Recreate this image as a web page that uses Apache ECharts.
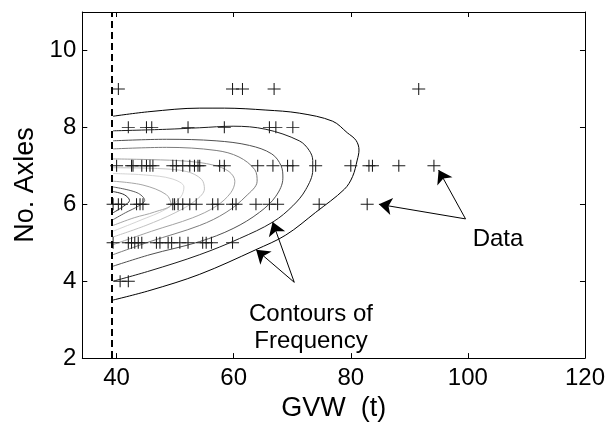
<!DOCTYPE html>
<html><head><meta charset="utf-8">
<script src="https://cdn.jsdelivr.net/npm/echarts@6/dist/echarts.min.js"></script>
<style>html,body{margin:0;padding:0;background:#fff}#c{width:608px;height:427px}</style>
</head><body><div id="c"></div>
<script>
// ---- axis ticks ----
const xTicks = [40, 60, 80, 100, 120];
const yTicks = [2, 4, 6, 8, 10];
const truncationGVW = 39.25;

// ---- data points: GVW values (t) for each number of axles ----
const axleCounts = [9, 8, 7, 6, 5, 4];
const gvwAt9 = [40.3, 59.8, 61.5, 66.9, 91.6];
const gvwAt8 = [42.0, 45.1, 46.0, 52.2, 58.4, 66.1, 67.2, 70.1];
const gvwAt7 = [40.0, 42.55, 42.8, 44.3, 45.1, 45.7, 46.2, 49.6, 50.2, 51.3, 52.5, 53.3, 53.9, 54.2, 57.6, 58.4, 64.1, 66.7, 69.2, 70.1, 74.0, 80.0, 83.1, 83.7, 88.2, 94.2];
const gvwAt6 = [39.4, 40.3, 40.85, 43.4, 44.0, 44.5, 49.6, 49.9, 50.5, 51.3, 52.5, 53.6, 56.4, 57.3, 59.8, 60.4, 63.8, 66.1, 67.5, 74.6, 82.8];
const gvwAt5 = [39.4, 42.0, 42.55, 43.1, 43.7, 44.3, 46.8, 47.4, 48.8, 49.4, 50.8, 52.2, 54.7, 55.3, 56.2, 59.8];
const gvwAt4 = [40.6, 42.0];
const gvwRows = [gvwAt9, gvwAt8, gvwAt7, gvwAt6, gvwAt5, gvwAt4];

// ---- frequency contours (GVW, axles), outermost first ----
const contour1 = [[39.4,3.51],[45.7,3.76],[54.2,4.18],[63.8,4.82],[68.9,5.2],[74.0,5.79],[78.9,6.39],[80.3,6.72],[81.1,7.15],[81.4,7.41],[80.9,7.66],[79.4,7.86],[76.9,8.16],[71.2,8.37],[65.5,8.45],[58.4,8.5],[54.2,8.5],[45.7,8.41],[39.4,8.29]];
const contour2 = [[39.4,4.0],[45.7,4.27],[54.2,4.69],[61.0,5.11],[66.7,5.54],[70.1,5.96],[72.3,6.38],[73.5,6.89],[73.5,7.14],[72.9,7.4],[71.2,7.65],[65.5,7.95],[59.9,8.03],[54.2,7.99],[48.5,7.95],[39.4,7.91]];
const contour3 = [[39.4,4.39],[45.7,4.69],[54.2,5.03],[59.9,5.37],[64.4,5.79],[67.2,6.21],[68.4,6.68],[68.1,7.0],[66.5,7.31],[62.7,7.53],[57.0,7.65],[48.5,7.69],[39.4,7.65]];
const contour4 = [[39.4,4.69],[45.7,5.03],[54.2,5.45],[58.7,5.79],[62.1,6.21],[64.0,6.6],[63.6,6.9],[60.9,7.23],[57.0,7.4],[48.5,7.48],[39.4,7.44]];
const contour5 = [[39.4,4.95],[46,5.3],[53,5.65],[57,5.95],[59.5,6.3],[60.2,6.6],[59.2,6.85],[56.5,7.02],[52,7.12],[46,7.16],[39.4,7.18]];
const contour6 = [[39.4,5.15],[45,5.45],[50,5.78],[53.5,6.1],[55,6.4],[54.5,6.65],[52,6.85],[47,6.93],[39.4,6.95]];
const contour7 = [[39.4,5.3],[44,5.58],[48.5,5.88],[51,6.2],[51.5,6.45],[49.5,6.66],[45,6.76],[39.4,6.8]];
const contour8 = [[39.4,5.45],[43,5.65],[46.5,5.8],[49.3,6.0],[48.5,6.25],[44.5,6.5],[39.4,6.6]];
const contour9 = [[39.4,5.6],[41.5,5.78],[43.8,5.96],[44.8,6.1],[43.5,6.3],[39.4,6.45]];
const contour10 = [[39.4,5.78],[41.2,5.95],[42.2,6.1],[41.3,6.25],[39.4,6.33]];
const contours = [contour1, contour2, contour3, contour4, contour5, contour6, contour7, contour8, contour9, contour10];
const contourColors = ['#000000', '#1c1c1c', '#505050', '#7c7c7c', '#a2a2a2', '#c2c2c2', '#d4d4d4', '#a6a6a6', '#5e5e5e', '#2e2e2e'];

// ---- annotations (data coordinates) ----
const dataArrowFrom = [99.6, 5.62];
const dataArrowTips = [[95.0, 6.89], [84.8, 6.0]];
const contourArrowFrom = [70.35, 3.97];
const contourArrowTips = [[66.65, 5.54], [63.83, 4.82]];

const FONT = 'Liberation Sans, Arial, Helvetica, sans-serif';
const points = [];
gvwRows.forEach((row, i) => row.forEach(g => points.push([g, axleCounts[i]])));

const arrowLines = [];
dataArrowTips.forEach(t => arrowLines.push([{coord: dataArrowFrom}, {coord: t}]));
contourArrowTips.forEach(t => arrowLines.push([{coord: contourArrowFrom}, {coord: t}]));

const chart = echarts.init(document.getElementById('c'), null, {renderer: 'canvas'});
const xMin = 34.14, xMax = 120, yMin = 2, yMax = 11;
const axisCommon = {
  axisLine: {show: true, onZero: false, lineStyle: {color: '#000', width: 1}},
  splitLine: {show: false}
};
const series = contours.map((pts, i) => ({
  type: 'line', data: pts, smooth: 0.35, showSymbol: false, silent: true, z: 1,
  lineStyle: {color: contourColors[i], width: 1}
}));
series.push({
  type: 'scatter', data: points, z: 3,
  symbol: 'path://M0,6H12M6,0V12', symbolSize: [13, 12],
  itemStyle: {color: 'rgba(0,0,0,0)', borderColor: '#1a1a1a', borderWidth: 1, opacity: 1},
  silent: true
});
series.push({
  type: 'line', data: [], z: 4, silent: true,
  markLine: {
    silent: true, symbol: ['none', 'none'], label: {show: false},
    lineStyle: {color: '#000', width: 2, type: [7, 4]},
    data: [{xAxis: truncationGVW}]
  }
});
series.push({
  type: 'line', data: [], z: 5, silent: true,
  markLine: {
    silent: true, symbol: ['none', 'arrow'], symbolSize: 13, label: {show: false},
    lineStyle: {color: '#000', width: 1, type: 'solid'},
    data: arrowLines
  }
});

chart.setOption({
  animation: false,
  backgroundColor: '#fff',
  grid: {left: 82.3, right: 21.3, top: 12, bottom: 61, containLabel: false},
  xAxis: [
    Object.assign({}, axisCommon, {
      type: 'value', min: xMin, max: xMax, position: 'bottom',
      name: 'GVW  (t)', nameLocation: 'middle', nameGap: 33,
      nameTextStyle: {fontFamily: FONT, fontSize: 27, color: '#000'},
      axisTick: {show: true, inside: true, length: 5, customValues: xTicks, lineStyle: {color: '#000'}},
      axisLabel: {show: true, customValues: xTicks, margin: 8, fontFamily: FONT, fontSize: 24, color: '#000'}
    }),
    Object.assign({}, axisCommon, {
      type: 'value', min: xMin, max: xMax, position: 'top',
      axisTick: {show: true, inside: true, length: 5, customValues: xTicks, lineStyle: {color: '#000'}},
      axisLabel: {show: false}
    })
  ],
  yAxis: [
    Object.assign({}, axisCommon, {
      type: 'value', min: yMin, max: yMax, position: 'left',
      name: 'No. Axles', nameLocation: 'middle', nameGap: 42,
      nameTextStyle: {fontFamily: FONT, fontSize: 27, color: '#000'},
      axisTick: {show: true, inside: true, length: 5, customValues: yTicks, lineStyle: {color: '#000'}},
      axisLabel: {show: true, customValues: yTicks, margin: 6, fontFamily: FONT, fontSize: 24, color: '#000'}
    }),
    Object.assign({}, axisCommon, {
      type: 'value', min: yMin, max: yMax, position: 'right',
      axisTick: {show: true, inside: true, length: 5, customValues: yTicks, lineStyle: {color: '#000'}},
      axisLabel: {show: false}
    })
  ],
  graphic: [
    {type: 'text', x: 498, y: 239, silent: true,
     style: {text: 'Data', fontFamily: FONT, fontSize: 24, fill: '#000', align: 'center', verticalAlign: 'middle'}},
    {type: 'text', x: 311, y: 314, silent: true,
     style: {text: 'Contours of', fontFamily: FONT, fontSize: 24, fill: '#000', align: 'center', verticalAlign: 'middle'}},
    {type: 'text', x: 311, y: 341, silent: true,
     style: {text: 'Frequency', fontFamily: FONT, fontSize: 24, fill: '#000', align: 'center', verticalAlign: 'middle'}}
  ],
  series: series
});
</script></body></html>
